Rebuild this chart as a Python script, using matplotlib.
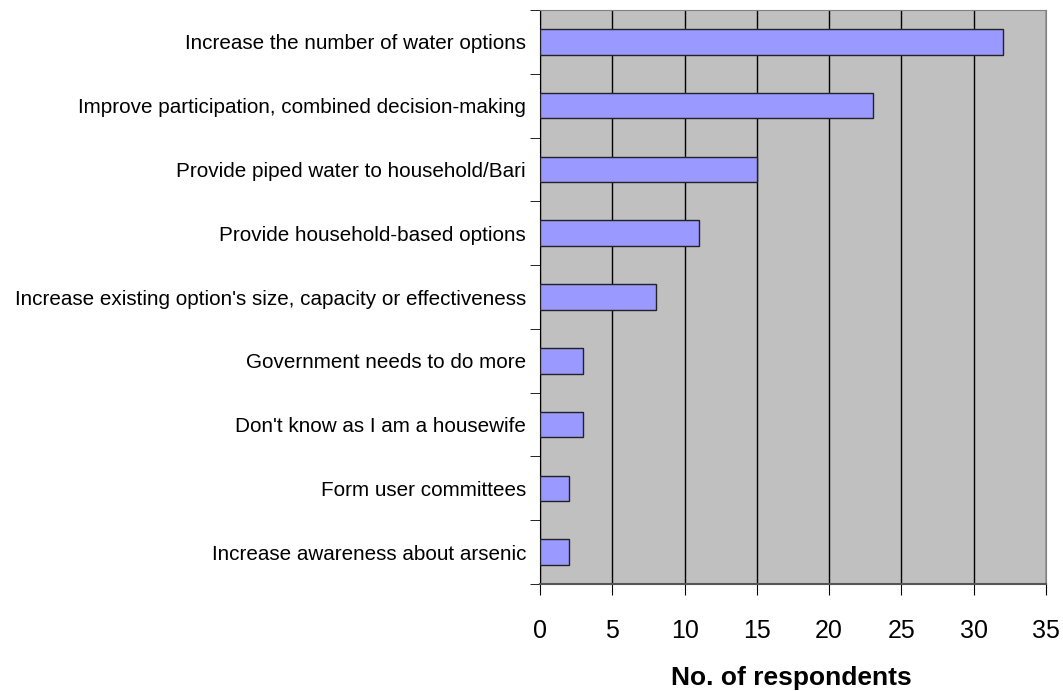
import numpy as np
import matplotlib.pyplot as plt

#categories, top to bottom as in the chart
labels = ['Increase the number of water options',
          'Improve participation, combined decision-making',
          'Provide piped water to household/Bari',
          'Provide household-based options',
          "Increase existing option's size, capacity or effectiveness",
          'Government needs to do more',
          "Don't know as I am a housewife",
          'Form user committees',
          'Increase awareness about arsenic']
counts = [32, 23, 15, 11, 8, 3, 3, 2, 2]
xticks = [0, 5, 10, 15, 20, 25, 30, 35]

plt.rcParams['font.family'] = ['Liberation Sans', 'DejaVu Sans']

fig = plt.figure(figsize=(10.63, 6.91), dpi=100)
ax = fig.add_axes([540/1063, 1-584/691, (1046-540)/1063, (584-10)/691])

y = np.arange(len(labels))[::-1]
ax.set_facecolor('#C0C0C0')
ax.barh(y, counts, height=0.4, color='#9999FF', edgecolor='#222222',
        linewidth=1, zorder=3)

ax.set_xlim(0, 35)
ax.set_ylim(-0.5, len(labels)-0.5)
ax.set_xticks(xticks)
ax.set_xticklabels([str(t) for t in xticks], fontsize=18)
ax.xaxis.grid(True, color='black', linewidth=1)
ax.set_axisbelow(True)

#labels at category centres, ticks at boundaries
ax.set_yticks(y)
ax.set_yticklabels(labels, fontsize=14.9)
ax.tick_params(axis='y', which='major', length=0, pad=10)
ax.set_yticks(np.arange(-0.5, len(labels)), minor=True)
ax.tick_params(axis='y', which='minor', length=7, color='black')
ax.tick_params(axis='x', length=8, color='black', pad=17)

for s in ['top', 'right']:
    ax.spines[s].set_color('#808080')
ax.spines['left'].set_color('black')
ax.spines['bottom'].set_color('#555555')
ax.spines['bottom'].set_linewidth(1.5)

fig.text(791/1063, 1-685/691, 'No. of respondents', fontsize=19,
         fontweight='bold', ha='center', va='baseline')

plt.savefig('out.png', dpi=100)
